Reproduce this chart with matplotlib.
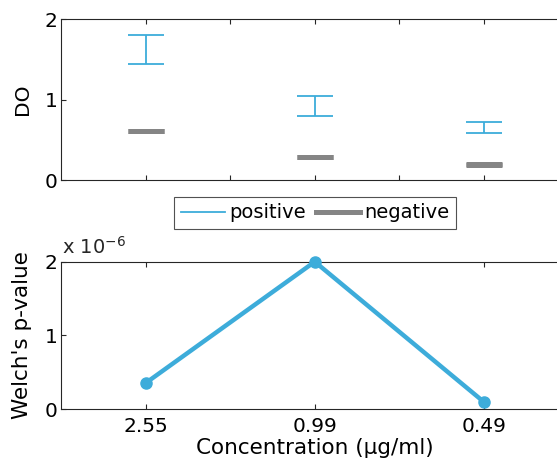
import numpy as np
import matplotlib
matplotlib.use("Agg")
import matplotlib.pyplot as plt
from matplotlib.lines import Line2D

plt.rcParams["font.family"] = ["DejaVu Sans"]
plt.rcParams["mathtext.fontset"] = "dejavusans"

# data
x_pos = [1, 2, 3]
conc_labels = ["2.55", "0.99", "0.49"]
pos_low = [1.44, 0.79, 0.58]
pos_high = [1.80, 1.04, 0.72]
neg_low = [0.605, 0.281, 0.185]
neg_high = [0.613, 0.291, 0.195]
p_values = [0.355e-6, 2.0e-6, 0.099e-6]

blue = "#3DACDA"
gray = "#858585"
axc = "#262626"

fig = plt.figure(figsize=(5.57, 4.63), dpi=100)
ax1 = fig.add_axes([0.1104, 0.6112, 0.9094, 0.3477])
ax2 = fig.add_axes([0.1104, 0.1166, 0.9094, 0.3181])

# top: error bars
pl, ph = np.array(pos_low), np.array(pos_high)
ax1.errorbar(x_pos, (pl + ph) / 2, yerr=(ph - pl) / 2, fmt="none",
             ecolor=blue, elinewidth=1.3, capsize=12.8, capthick=1.3)
nl, nh = np.array(neg_low), np.array(neg_high)
ax1.errorbar(x_pos, (nl + nh) / 2, yerr=(nh - nl) / 2, fmt="none",
             ecolor=gray, elinewidth=3.6, capsize=12.8, capthick=3.6)
ax1.set_xlim(0.5, 3.5)
ax1.set_ylim(0, 2)
ax1.set_xticks([1, 1.5, 2, 2.5, 3, 3.5])
ax1.set_xticklabels([])
ax1.set_yticks([0, 1, 2])
ax1.set_ylabel("DO", fontsize=14.5)
ax1.yaxis.set_label_coords(-0.058, 0.5)

# bottom: p-values
ax2.plot(x_pos, np.array(p_values) / 1e-6, color=blue, lw=3.2,
         marker="o", ms=8, clip_on=False, zorder=3)
ax2.set_xlim(0.5, 3.5)
ax2.set_ylim(0, 2)
ax2.set_xticks(x_pos)
ax2.set_xticklabels(conc_labels)
ax2.set_yticks([0, 1, 2])
ax2.set_ylabel("Welch's p-value", fontsize=15.5)
ax2.yaxis.set_label_coords(-0.058, 0.5)
ax2.set_xlabel("Concentration (\u03bcg/ml)", fontsize=15.5)
ax2.xaxis.set_label_coords(0.5, -0.2)
fig.text(62 / 557, 1 - 254 / 463, r"x 10$^{-6}$", fontsize=14,
         ha="left", va="baseline", color=axc)

for ax in (ax1, ax2):
    for s in ax.spines.values():
        s.set_color(axc)
        s.set_linewidth(0.8)
    ax.tick_params(direction="in", length=3.5, width=0.8, colors=axc,
                   labelsize=14.5, top=True, right=True, labelcolor="black")
    ax.tick_params(axis="y", pad=3)
    ax.tick_params(axis="x", pad=6)

handles = [Line2D([], [], color=blue, lw=1.3),
           Line2D([], [], color=gray, lw=3.6)]
leg = fig.legend(handles, ["positive", "negative"], ncol=2,
                 loc="center", bbox_to_anchor=(315 / 557, 1 - 213 / 463),
                 fontsize=14, frameon=True, fancybox=False,
                 handlelength=2.3, handletextpad=0.2, columnspacing=0.5,
                 borderpad=0.35)
leg.get_frame().set_edgecolor(axc)
leg.get_frame().set_linewidth(0.8)

fig.savefig("out.png", dpi=100)
